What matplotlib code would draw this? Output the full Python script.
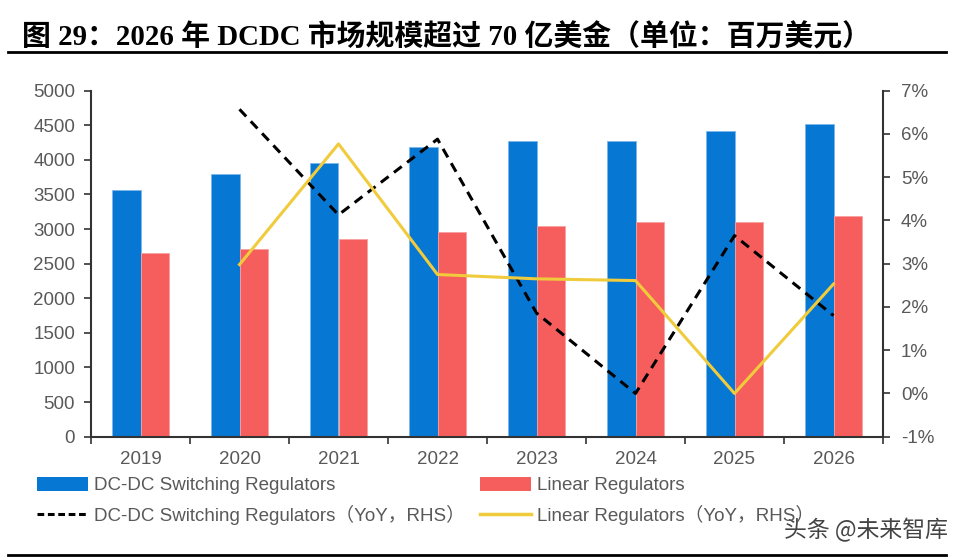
import matplotlib
matplotlib.use("Agg")
import matplotlib.pyplot as plt
from matplotlib.lines import Line2D
from matplotlib.patches import Patch
import numpy as np

years = ["2019", "2020", "2021", "2022", "2023", "2024", "2025", "2026"]
dcdc = [3570, 3800, 3950, 4190, 4277, 4277, 4420, 4515]
linear = [2655, 2712, 2860, 2953, 3045, 3098, 3098, 3185]
dcdc_yoy_years = ["2020", "2021", "2022", "2023", "2024", "2025", "2026"]
dcdc_yoy = [6.57, 4.13, 5.88, 1.86, 0.0, 3.65, 1.80]
linear_yoy = [2.98, 5.77, 2.75, 2.65, 2.61, 0.0, 2.53]
left_ticks = [0, 500, 1000, 1500, 2000, 2500, 3000, 3500, 4000, 4500, 5000]
right_ticks = [-1, 0, 1, 2, 3, 4, 5, 6, 7]

BLUE = "#0777D4"
RED = "#F65D5D"
YELLOW = "#F0CB3C"
GRAY = "#595959"
LATIN_CJK = ["Liberation Sans", "Noto Sans CJK SC"]

plt.rcParams["font.family"] = LATIN_CJK

fig = plt.figure(figsize=(9.64, 5.58), dpi=100)
ax = fig.add_axes([91/964, 1-436.7/558, (883-91)/964, (436.7-90.7)/558])

x = np.arange(len(years))
w = 0.29
ax.bar(x - w/2, dcdc, width=w, color=BLUE, edgecolor="#7fb6ea", linewidth=0.6, zorder=2)
ax.bar(x + w/2, linear, width=w, color=RED, edgecolor="#f8a0a0", linewidth=0.6, zorder=2)
ax.set_xlim(-0.5, len(years) - 0.5)
ax.set_ylim(0, 5000)
ax.set_yticks(left_ticks)
ax.set_yticklabels([str(t) for t in left_ticks])
ax.set_xticks(np.arange(len(years) + 1) - 0.5)
ax.set_xticklabels([])
ax.set_xticks(x, minor=True)
ax.set_xticklabels(years, minor=True)
ax.tick_params(axis="x", which="major", length=5, width=1.2, direction="out", color="#333333")
ax.tick_params(axis="x", which="minor", length=0, pad=10.5, labelsize=13.5, labelcolor=GRAY)
ax.tick_params(axis="y", length=5, width=1.2, direction="out", color="#333333", labelsize=13.5, labelcolor=GRAY, pad=6.5)
for s in ["top", "right"]:
    ax.spines[s].set_visible(False)
for s in ["left", "bottom"]:
    ax.spines[s].set_linewidth(1.5)
    ax.spines[s].set_color("#333333")

ax2 = ax.twinx()
yx = [years.index(y) for y in dcdc_yoy_years]
ax2.plot(yx, dcdc_yoy, color="black", linestyle=(0, (3.2, 2.2)), linewidth=2.2, zorder=3)
ax2.plot(yx, linear_yoy, color=YELLOW, linewidth=2.2, zorder=3)
ax2.set_ylim(-1, 7)
ax2.set_yticks(right_ticks)
ax2.set_yticklabels([f"{t}%" for t in right_ticks])
ax2.tick_params(axis="y", length=5, width=1.2, direction="out", color="#333333", labelsize=13.5, labelcolor=GRAY, pad=8)
for s in ["top", "left", "bottom"]:
    ax2.spines[s].set_visible(False)
ax2.spines["right"].set_linewidth(1.5)
ax2.spines["right"].set_color("#333333")

# Title
fig.text(22/964, 1-37/558, "图 29：2026 年 DCDC 市场规模超过 70 亿美金（单位：百万美元）",
         fontsize=20.8, fontweight="bold", family=["Liberation Serif", "Noto Sans CJK SC"],
         va="center", ha="left", color="black")
fig.add_artist(Line2D([8/964, 946/964], [1-52/558, 1-52/558], color="black", linewidth=2))
fig.add_artist(Line2D([8/964, 946/964], [1-555/558, 1-555/558], color="black", linewidth=2))

handles = [
    Patch(facecolor=BLUE, edgecolor="none"),
    Line2D([], [], color="black", linestyle=(0, (2.2, 1.2)), linewidth=2.2),
    Patch(facecolor=RED, edgecolor="none"),
    Line2D([], [], color=YELLOW, linewidth=2.5),
]
labels = [
    "DC-DC Switching Regulators",
    "DC-DC Switching Regulators（YoY，RHS）",
    "Linear Regulators",
    "Linear Regulators（YoY，RHS）",
]
leg = fig.legend(handles, labels, ncol=2, loc="upper left", bbox_to_anchor=(29/964, 1-469/558),
                 frameon=False, fontsize=13.5, handlelength=2.75, handleheight=0.8,
                 handletextpad=0.3, columnspacing=0.8, labelspacing=0.55, borderaxespad=0)
for t in leg.get_texts():
    t.set_color(GRAY)

fig.text(948/964, 1-530/558, "头条 @未来智库", fontsize=16.5, color="#444444",
         family=["Noto Sans CJK SC"], ha="right", va="center")

fig.savefig("out.png", dpi=100)
